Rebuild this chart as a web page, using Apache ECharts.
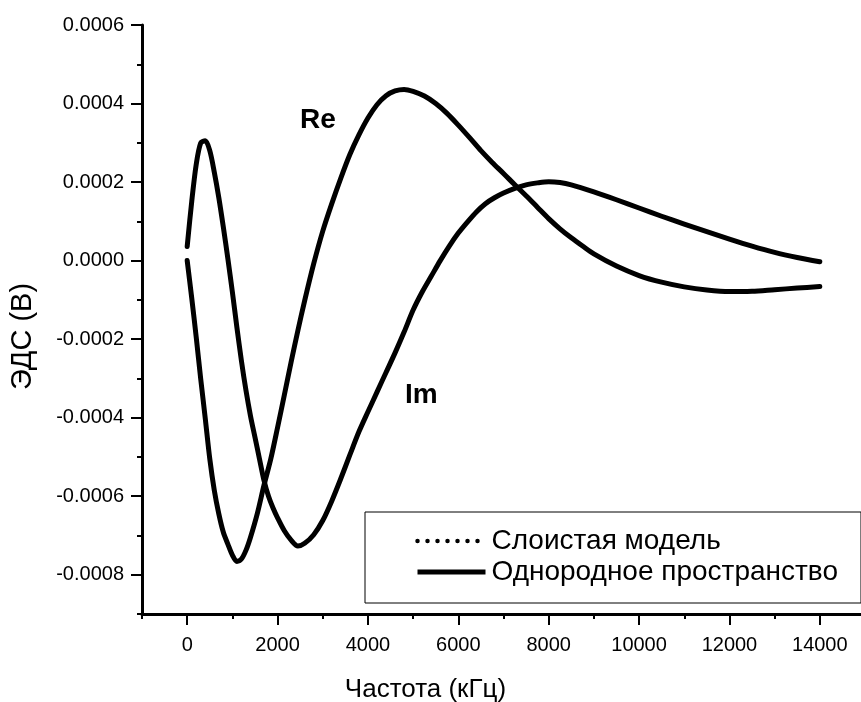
<!DOCTYPE html>
<html><head><meta charset="utf-8">
<script src="https://cdn.jsdelivr.net/npm/echarts@6/dist/echarts.min.js"></script>
<style>html,body{margin:0;padding:0;background:#fff}#c{width:861px;height:702px}</style>
</head><body><div id="c"></div>
<script>
// Частота (кГц) / ЭДС (В), Re component
const reFreq = [0,100,200,300,400,500,600,700,800,900,1000,1100,1200,1300,1400,1550,1700,1850,2000,2150,2300,2450,2600,2800,3000,3200,3400,3600,3800,4000,4200,4400,4600,4800,5000,5250,5500,5750,6000,6250,6500,6750,7000,7250,7500,7750,8000,8250,8500,8750,9000,9500,10000,10500,11000,11500,12000,12500,13000,13500,14000];
const reEmf  = [0.0,-0.95e-4,-1.95e-4,-3.02e-4,-4.02e-4,-5.05e-4,-5.85e-4,-6.45e-4,-6.92e-4,-7.22e-4,-7.5e-4,-7.66e-4,-7.6e-4,-7.38e-4,-7.05e-4,-6.45e-4,-5.72e-4,-5.05e-4,-4.25e-4,-3.42e-4,-2.58e-4,-1.78e-4,-1.02e-4,-0.08e-4,0.75e-4,1.45e-4,2.1e-4,2.7e-4,3.2e-4,3.63e-4,3.97e-4,4.2e-4,4.32e-4,4.36e-4,4.31e-4,4.19e-4,4.0e-4,3.75e-4,3.45e-4,3.13e-4,2.8e-4,2.5e-4,2.22e-4,1.93e-4,1.65e-4,1.36e-4,1.07e-4,0.81e-4,0.58e-4,0.37e-4,0.17e-4,-0.14e-4,-0.38e-4,-0.55e-4,-0.67e-4,-0.75e-4,-0.79e-4,-0.78e-4,-0.74e-4,-0.7e-4,-0.66e-4];
// Im component
const imFreq = [0,100,200,300,400,500,600,700,800,900,1000,1100,1200,1300,1400,1500,1600,1700,1800,1900,2000,2150,2300,2450,2600,2800,3000,3200,3400,3600,3800,4000,4200,4400,4600,4800,5000,5200,5400,5600,5800,6000,6200,6400,6600,6800,7000,7250,7500,7750,8000,8250,8500,9000,9500,10000,10500,11000,11500,12000,12500,13000,13500,14000];
const imEmf  = [0.36e-4,1.5e-4,2.45e-4,3.0e-4,3.05e-4,2.8e-4,2.25e-4,1.6e-4,0.85e-4,0.05e-4,-0.8e-4,-1.7e-4,-2.55e-4,-3.3e-4,-3.95e-4,-4.5e-4,-5.05e-4,-5.6e-4,-6.0e-4,-6.3e-4,-6.55e-4,-6.88e-4,-7.12e-4,-7.27e-4,-7.2e-4,-6.98e-4,-6.62e-4,-6.12e-4,-5.55e-4,-4.95e-4,-4.36e-4,-3.85e-4,-3.35e-4,-2.85e-4,-2.35e-4,-1.82e-4,-1.26e-4,-0.8e-4,-0.4e-4,0.0,0.37e-4,0.7e-4,0.98e-4,1.24e-4,1.45e-4,1.6e-4,1.72e-4,1.84e-4,1.93e-4,1.98e-4,2.01e-4,1.99e-4,1.93e-4,1.75e-4,1.55e-4,1.34e-4,1.13e-4,0.93e-4,0.74e-4,0.55e-4,0.37e-4,0.21e-4,0.08e-4,-0.03e-4];
const xMajorTicks = [0,2000,4000,6000,8000,10000,12000,14000];
const yMajorTicks = [-0.0008,-0.0006,-0.0004,-0.0002,0,0.0002,0.0004,0.0006];
const seriesNames = ['Слоистая модель','Однородное пространство'];
const curveLabels = ['Re','Im'];

const FONT = "'Liberation Sans', Arial, sans-serif";
const pair = (xs, ys) => xs.map((x, i) => [x, ys[i]]);
const chart = echarts.init(document.getElementById('c'));
const GRID_W = 723;
const tickLine = {color:'#000', width:2};
const solid = {color:'#000', width:5, cap:'round', join:'round'};
chart.setOption({
  animation:false,
  backgroundColor:'#fff',
  grid:{left:142, top:25, width:GRID_W, height:589, outerBoundsMode:'none', containLabel:false},
  xAxis:[{
    type:'value', min:-1000, max:15000, interval:2000, position:'bottom',
    splitLine:{show:false},
    name:'Частота (кГц)', nameLocation:'middle', nameGap:63,
    nameTextStyle:{fontFamily:FONT, fontSize:26, color:'#000', padding:[0,156,0,0]},
    axisLine:{show:true, onZero:false, lineStyle:{color:'#000', width:3}},
    axisTick:{show:true, length:5, lineStyle:tickLine},
    minorTick:{show:true, splitNumber:2, length:11, lineStyle:tickLine},
    minorSplitLine:{show:false},
    axisLabel:{fontFamily:FONT, fontSize:20, color:'#000', margin:21, customValues:xMajorTicks,
      formatter:v => String(v)}
  }],
  yAxis:[
    {
      type:'value', min:-0.0009, max:0.0006, interval:0.0001, position:'left',
      splitLine:{show:false},
      name:'ЭДС (В)', nameLocation:'middle', nameGap:105,
      nameTextStyle:{fontFamily:FONT, fontSize:29, color:'#000', padding:[0,34,0,0]},
      axisLine:{show:true, onZero:false, lineStyle:{color:'#000', width:3}},
      axisTick:{show:true, length:5, lineStyle:tickLine},
      axisLabel:{fontFamily:FONT, fontSize:20, color:'#000', margin:18,
        formatter:v => { const k = Math.round(v*1e4); return (Math.abs(k) % 2 === 0) ? (k/1e4).toFixed(4) : ''; }}
    },
    {
      type:'value', min:-0.0009, max:0.0006, position:'right', offset:-GRID_W,
      splitLine:{show:false},
      axisLine:{show:false, onZero:false},
      axisTick:{show:true, inside:true, length:11, customValues:yMajorTicks, lineStyle:tickLine},
      axisLabel:{show:false}
    }
  ],
  legend:{
    orient:'vertical', left:365, top:512,
    data:[
      {name:seriesNames[0], lineStyle:{color:'#000', width:4.5, type:[0.01,9.99], cap:'round'}},
      {name:seriesNames[1], lineStyle:{color:'#000', width:5, type:'solid', cap:'butt'}}
    ],
    itemWidth:68, itemHeight:14, itemGap:3,
    itemStyle:{opacity:0, borderWidth:0},
    padding:[15,23,17,50],
    borderColor:'#000', borderWidth:1, backgroundColor:'#fff',
    textStyle:{fontFamily:FONT, fontSize:28, color:'#000', padding:[0,0,0,1]}
  },
  graphic:[
    {type:'text', left:300, top:106, style:{text:curveLabels[0], font:"bold 28px 'Liberation Sans', Arial, sans-serif", fill:'#000'}},
    {type:'text', left:405, top:381, style:{text:curveLabels[1], font:"bold 28px 'Liberation Sans', Arial, sans-serif", fill:'#000'}}
  ],
  series:[
    {name:seriesNames[0], type:'line', data:[], symbol:'none', xAxisIndex:0, yAxisIndex:0,
      lineStyle:{color:'#000', width:4.5, type:[0.01,9.99], cap:'round'}, itemStyle:{color:'#000'}},
    {name:seriesNames[1], type:'line', data:pair(reFreq, reEmf), symbol:'none', smooth:0.3, xAxisIndex:0, yAxisIndex:0,
      lineStyle:solid, itemStyle:{color:'#000'}, z:3},
    {name:seriesNames[1], type:'line', data:pair(imFreq, imEmf), symbol:'none', smooth:0.3, xAxisIndex:0, yAxisIndex:0,
      lineStyle:solid, itemStyle:{color:'#000'}, z:3}
  ]
});
</script></body></html>
